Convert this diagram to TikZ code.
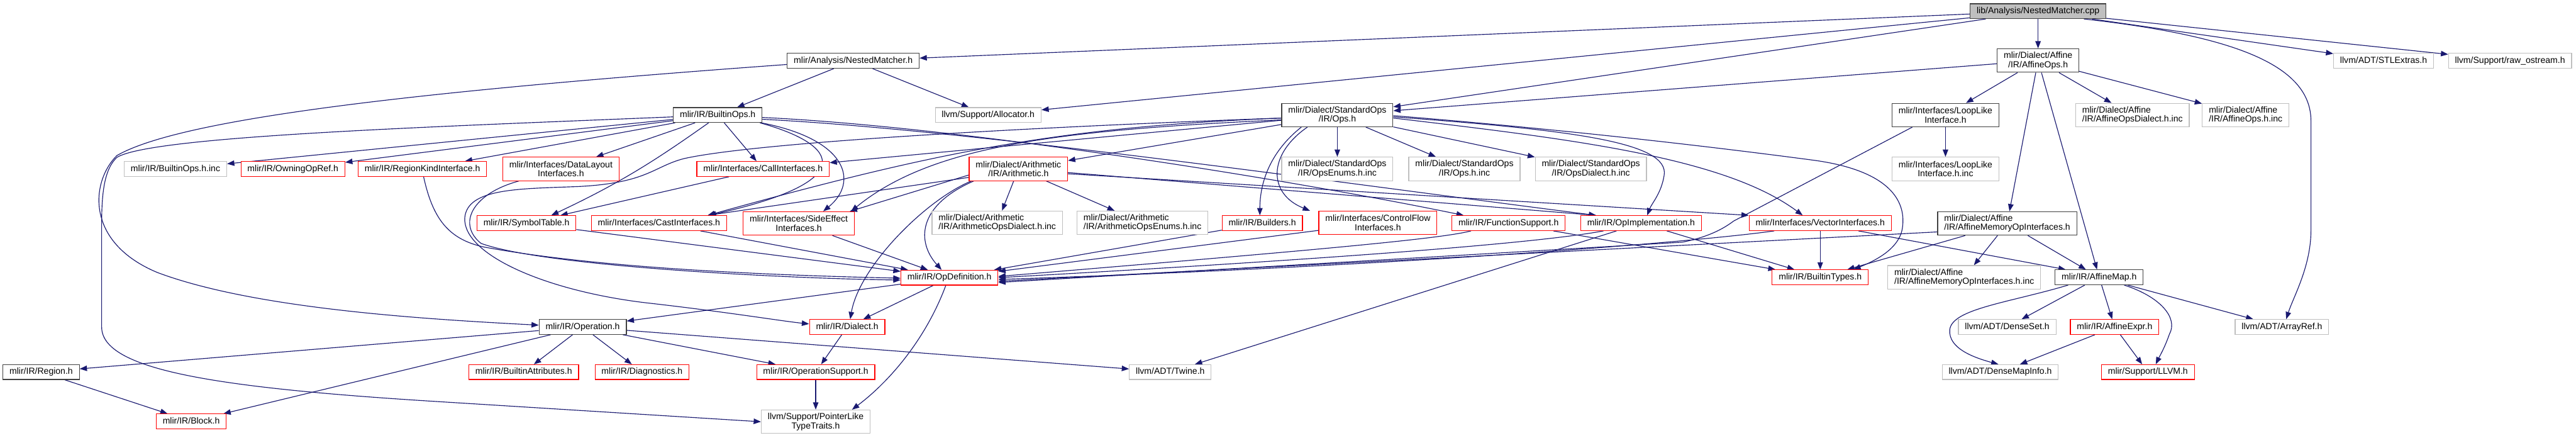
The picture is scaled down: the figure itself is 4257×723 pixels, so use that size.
\documentclass[tikz,border=0pt]{standalone}
\usepackage{fontspec}
\setmainfont{Liberation Sans}
\usetikzlibrary{arrows.meta,backgrounds}
\definecolor{edgeblue}{HTML}{191970}
\definecolor{docgray}{HTML}{BFBFBF}
\definecolor{cutred}{HTML}{FF0000}
\definecolor{docline}{HTML}{404040}

\begin{document}
\begin{tikzpicture}[x=1pt,y=-1pt,
  box/.style={rectangle,line width=1.2pt,fill=white,inner xsep=10.8pt,inner ysep=0pt,
    font=\fontsize{14.6}{15}\selectfont},
  one/.style={box,minimum height=24.5pt,text height=10.6pt,text depth=3.1pt},
  two/.style={box,minimum height=38.8pt,align=center},
  twol/.style={box,minimum height=38.8pt,align=left},
  doc/.style={draw=docline},
  cut/.style={draw=cutred},
  ext/.style={draw=docgray},
  dep/.style={-{Triangle[length=12pt,width=9pt]},draw=edgeblue,line width=1.2pt}]
\useasboundingbox (0,0) rectangle (4257,723);

% rows of headers, top to bottom
\node[one,doc,fill=docgray] (root) at (3368,18.5) {lib/Analysis/NestedMatcher.cpp};
\node[one,doc] (nmh) at (1410,100.5) {mlir/Analysis/NestedMatcher.h};
\node[two,doc] (aops) at (3368,100) {mlir/Dialect/Affine\\/IR/AffineOps.h};
\node[one,ext] (stl) at (3939,100.5) {llvm/ADT/STLExtras.h};
\node[one,ext] (ros) at (4148,100.5) {llvm/Support/raw\_ostream.h};

\node[one,doc] (bops) at (1186,190) {mlir/IR/BuiltinOps.h};
\node[one,ext] (alloc) at (1633,190) {llvm/Support/Allocator.h};
\node[two,doc] (sops) at (2210,190) {mlir/Dialect/StandardOps\\/IR/Ops.h};
\node[two,doc] (loop) at (3215,190) {mlir/Interfaces/LoopLike\\Interface.h};
\node[twol,ext] (adinc) at (3524,190) {mlir/Dialect/Affine\\/IR/AffineOpsDialect.h.inc};
\node[twol,ext] (aoinc) at (3711,190) {mlir/Dialect/Affine\\/IR/AffineOps.h.inc};

\node[one,ext] (boinc) at (290,279) {mlir/IR/BuiltinOps.h.inc};
\node[one,cut] (owning) at (484,279) {mlir/IR/OwningOpRef.h};
\node[one,cut] (regkind) at (698,279) {mlir/IR/RegionKindInterface.h};
\node[two,cut] (dlayout) at (927,279) {mlir/Interfaces/DataLayout\\Interfaces.h};
\node[one,cut] (call) at (1261,279) {mlir/Interfaces/CallInterfaces.h};
\node[two,cut] (arith) at (1683,279) {mlir/Dialect/Arithmetic\\/IR/Arithmetic.h};
\node[two,ext] (enuminc) at (2210,279) {mlir/Dialect/StandardOps\\/IR/OpsEnums.h.inc};
\node[two,ext] (opsinc) at (2420,279) {mlir/Dialect/StandardOps\\/IR/Ops.h.inc};
\node[two,ext] (sdinc) at (2629,279) {mlir/Dialect/StandardOps\\/IR/OpsDialect.h.inc};
\node[two,ext] (loopinc) at (3215,279) {mlir/Interfaces/LoopLike\\Interface.h.inc};

\node[one,cut] (symtab) at (870,368.5) {mlir/IR/SymbolTable.h};
\node[one,cut] (cast) at (1089,368.5) {mlir/Interfaces/CastInterfaces.h};
\node[two,cut] (sidefx) at (1320,369) {mlir/Interfaces/SideEffect\\Interfaces.h};
\node[twol,ext] (ardinc) at (1648,368) {mlir/Dialect/Arithmetic\\/IR/ArithmeticOpsDialect.h.inc};
\node[twol,ext] (areinc) at (1888,368) {mlir/Dialect/Arithmetic\\/IR/ArithmeticOpsEnums.h.inc};
\node[one,cut] (builders) at (2086,368.5) {mlir/IR/Builders.h};
\node[two,cut] (ctrlflow) at (2277,368) {mlir/Interfaces/ControlFlow\\Interfaces.h};
\node[one,cut] (funcsup) at (2493,368.5) {mlir/IR/FunctionSupport.h};
\node[one,cut] (opimpl) at (2712,368.5) {mlir/IR/OpImplementation.h};
\node[one,cut] (vecif) at (3008,368.5) {mlir/Interfaces/VectorInterfaces.h};
\node[twol,doc] (amoi) at (3317,369) {mlir/Dialect/Affine\\/IR/AffineMemoryOpInterfaces.h};

\node[one,cut] (opdef) at (1569,458.5) {mlir/IR/OpDefinition.h};
\node[one,cut] (btypes) at (3008,458) {mlir/IR/BuiltinTypes.h};
\node[twol,ext] (amoiinc) at (3246,458) {mlir/Dialect/Affine\\/IR/AffineMemoryOpInterfaces.h.inc};
\node[one,doc] (amap) at (3469,458) {mlir/IR/AffineMap.h};

\node[one,doc] (oper) at (963,540) {mlir/IR/Operation.h};
\node[one,cut] (dialect) at (1400,540) {mlir/IR/Dialect.h};
\node[one,ext] (dset) at (3317,540) {llvm/ADT/DenseSet.h};
\node[one,cut] (aexpr) at (3494.5,540) {mlir/IR/AffineExpr.h};
\node[one,ext] (aref) at (3771,540) {llvm/ADT/ArrayRef.h};

\node[one,doc] (region) at (68,614.5) {mlir/IR/Region.h};
\node[one,cut] (battr) at (865.5,614.5) {mlir/IR/BuiltinAttributes.h};
\node[one,cut] (diag) at (1061,614.5) {mlir/IR/Diagnostics.h};
\node[one,cut] (opsup) at (1348,614.5) {mlir/IR/OperationSupport.h};
\node[one,ext] (twine) at (1934,614.5) {llvm/ADT/Twine.h};
\node[one,ext] (dmi) at (3305.5,614.5) {llvm/ADT/DenseMapInfo.h};
\node[one,cut] (llvmh) at (3549.5,614.5) {mlir/Support/LLVM.h};

\node[one,cut] (block) at (316,696) {mlir/IR/Block.h};
\node[two,ext] (plt) at (1348,696.5) {llvm/Support/PointerLike\\TypeTraits.h};

\begin{scope}[on background layer]
% source file
\draw[dep] (root) -- (nmh);
\draw[dep] (root) -- (aops);
\draw[dep] (root) -- (sops);
\draw[dep] (root) -- (alloc);
\draw[dep] (root) -- (stl);
\draw[dep] (root) -- (ros);
\draw[dep] ([xshift=-37pt]root.south east) .. controls (3700,60) and (3819,110) .. (3819,200)
  -- (3819,380) .. controls (3819,440) and (3790,490) .. ([xshift=7pt]aref.north);

% NestedMatcher.h
\draw[dep] (nmh) -- (bops);
\draw[dep] (nmh) -- (alloc);
\draw[dep] ([yshift=-6pt]nmh.west) .. controls (700,150) and (300,195) .. (193,257)
  .. controls (150,300) and (140,400) .. (260,450) .. controls (420,510) and (700,527) .. ([yshift=3pt]oper.west);

% BuiltinOps.h
\draw[dep] (bops) -- (boinc);
\draw[dep] (bops) -- (owning);
\draw[dep] (bops) -- (regkind);
\draw[dep] (bops) -- (dlayout);
\draw[dep] ([xshift=-15pt]bops.south) .. controls (1090,260) and (1030,300) .. ([xshift=41pt]symtab.north);
\draw[dep] (bops) -- (call);
\draw[dep] ([xshift=-4pt]bops.south east) .. controls (1390,240) and (1420,300) .. ([xshift=-30pt]cast.north east);
\draw[dep] ([xshift=-2pt]bops.south east) .. controls (1400,230) and (1420,300) .. ([xshift=-52pt]sidefx.north east);
\draw[dep] ([yshift=-4pt]bops.east) .. controls (1600,210) and (2150,300) .. ([xshift=20pt]funcsup.north west);
\draw[dep] ([yshift=-7pt]bops.east) .. controls (1600,214) and (2200,300) .. ([xshift=26pt]opimpl.north west);
\draw[dep] ([yshift=-3pt]bops.west) .. controls (700,210) and (250,225) .. (193,260)
  .. controls (172,280) and (168,320) .. (168,370) -- (168,540)
  .. controls (168,610) and (350,640) .. (720,663) -- (plt.west);

% StandardOps/IR/Ops.h
\draw[dep] (sops) -- (enuminc);
\draw[dep] (sops) -- (opsinc);
\draw[dep] (sops) -- (sdinc);
\draw[dep] (sops) -- (arith);
\draw[dep] (sops) -- (call);
\draw[dep] ([xshift=33pt]sops.south west) .. controls (2100,250) and (2082,300) .. ([xshift=-4pt]builders.north);
\draw[dep] ([xshift=43pt]sops.south west) .. controls (2095,255) and (2095,320) .. ([xshift=-14pt]ctrlflow.north west);
\draw[dep] ([yshift=-5pt]sops.west) .. controls (1750,210) and (1550,250) .. ([xshift=-32pt]cast.north east);
\draw[dep] ([yshift=-8pt]sops.west) .. controls (1750,215) and (1540,240) .. ([xshift=-6pt]sidefx.north east);
\draw[dep] ([yshift=-5pt]sops.west) .. controls (1700,210) and (1250,235) .. (1130,262)
  .. controls (1080,275) and (1070,302) .. (957,308) .. controls (860,312) and (772,310) .. (768,360)
  .. controls (765,420) and (900,480) .. (1067,500) .. controls (1200,515) and (1290,530) .. ([yshift=5pt]dialect.west);
\draw[dep] ([yshift=-3pt]sops.east) .. controls (2600,215) and (2760,235) .. (2750,290)
  .. controls (2745,320) and (2730,335) .. ([xshift=10pt]opimpl.north);
\draw[dep] ([yshift=-5pt]sops.east) .. controls (2600,230) and (2850,260) .. ([xshift=-29pt]vecif.north);
\draw[dep] ([yshift=-1pt]sops.east) .. controls (2600,215) and (2850,245) .. (3000,265)
  .. controls (3120,282) and (3150,330) .. (3144,375) .. controls (3140,410) and (3100,430) .. ([xshift=-25pt]btypes.north east);

% Arithmetic.h
\draw[dep] (arith) -- (ardinc);
\draw[dep] (arith) -- (areinc);
\draw[dep] ([xshift=4pt]arith.south west) .. controls (1530,330) and (1420,440) .. ([xshift=5pt]dialect.north);
\draw[dep] ([xshift=8pt]arith.south west) .. controls (1515,340) and (1515,400) .. ([xshift=-13pt]opdef.north);
\draw[dep] ([yshift=-10pt]arith.west) -- ([xshift=-8pt]sidefx.north east);
\draw[dep] ([yshift=-14pt]arith.west) -- ([xshift=-32pt]cast.north east);
\draw[dep] ([yshift=-6pt]arith.east) -- ([xshift=26pt]opimpl.north west);
\draw[dep] ([yshift=-8pt]arith.east) -- (vecif.north west);

% interfaces into OpDefinition.h
\draw[dep] (call) -- (symtab);
\draw[dep] (symtab) -- (opdef);
\draw[dep] (cast) -- (opdef);
\draw[dep] (sidefx) -- (opdef);
\draw[dep] ([xshift=2pt]regkind.south) .. controls (715,360) and (740,395) .. (800,408)
  .. controls (1000,445) and (1300,455) .. ([yshift=-1pt]opdef.west);
\draw[dep] ([xshift=27pt]dlayout.south west) .. controls (780,320) and (755,370) .. (795,402)
  .. controls (900,440) and (1300,460) .. ([yshift=-4pt]opdef.west);
\draw[dep] (builders) -- (opdef);
\draw[dep] (ctrlflow) -- (opdef);
\draw[dep] ([xshift=32pt]funcsup.south west) .. controls (2380,395) and (2150,415) .. ([yshift=2pt]opdef.east);
\draw[dep] (funcsup) -- (btypes);
\draw[dep] ([xshift=38pt]opimpl.south west) .. controls (2550,400) and (2250,425) .. (opdef.east);
\draw[dep] (opimpl) -- (twine);
\draw[dep] (opimpl) -- (btypes);
\draw[dep] ([xshift=42pt]vecif.south west) .. controls (2800,400) and (2300,440) .. ([yshift=-3pt]opdef.east);
\draw[dep] (vecif) -- (btypes);
\draw[dep] ([xshift=-55pt]vecif.south east) -- ([xshift=18pt]amap.north west);

% Affine dialect
\draw[dep] (aops) -- (sops);
\draw[dep] (aops) -- (loop);
\draw[dep] (aops) -- (amoi);
\draw[dep] (aops) -- (amap);
\draw[dep] (aops) -- (adinc);
\draw[dep] (aops) -- (aoinc);
\draw[dep] (loop) -- (loopinc);
\draw[dep] ([xshift=34pt]loop.south west) -- (2865,365) .. controls (2845,380) and (2820,392) .. (2780,400)
  -- ([yshift=-8pt]opdef.east);
\draw[dep] ([yshift=-14pt]amoi.west) -- ([yshift=-6pt]opdef.east);
\draw[dep] (amoi) -- (btypes);
\draw[dep] (amoi) -- (amoiinc);
\draw[dep] (amoi) -- (amap);
\draw[dep] ([xshift=22pt]amap.south west) .. controls (3320,500) and (3225,510) .. (3222,545)
  .. controls (3220,575) and (3260,590) .. ([xshift=-3pt]dmi.north);
\draw[dep] (amap) -- (dset);
\draw[dep] (amap) -- (aexpr);
\draw[dep] ([xshift=-32pt]amap.south east) .. controls (3570,490) and (3600,525) .. (3585,552)
  .. controls (3577,575) and (3568,590) .. ([xshift=13pt]llvmh.north);
\draw[dep] (amap) -- (aref);
\draw[dep] (aexpr) -- (dmi);
\draw[dep] (aexpr) -- (llvmh);

% core IR
\draw[dep] (opdef) -- (oper);
\draw[dep] (opdef) -- (dialect);
\draw[dep] ([xshift=-6pt]opdef.south) .. controls (1530,560) and (1470,630) .. ([xshift=60pt]plt.north);
\draw[dep] (oper) -- (region);
\draw[dep] (oper) -- (block);
\draw[dep] (oper) -- (battr);
\draw[dep] (oper) -- (diag);
\draw[dep] (oper) -- (opsup);
\draw[dep] (oper) -- (twine);
\draw[dep] (dialect) -- (opsup);
\draw[dep] (opsup) -- (plt);
\draw[dep] (region) -- (block);
\end{scope}
\end{tikzpicture}
\end{document}
